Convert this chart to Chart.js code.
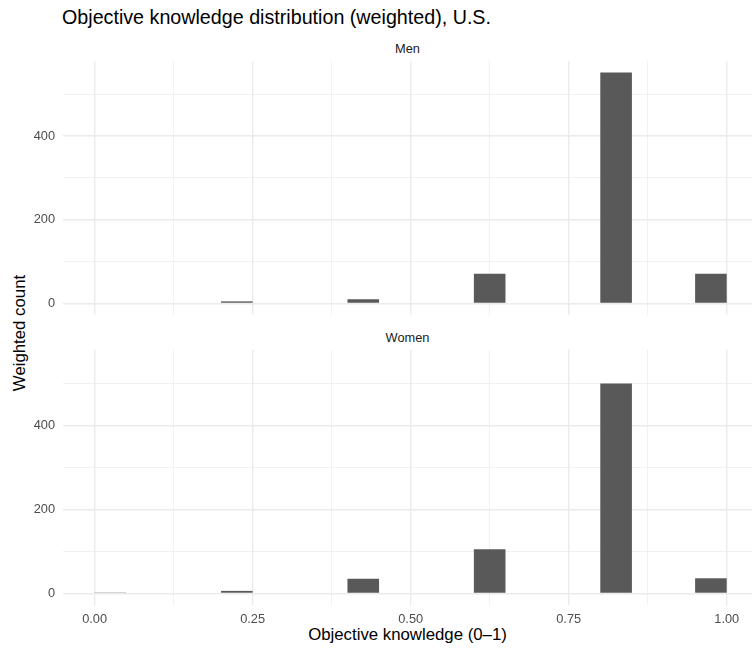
<!DOCTYPE html>
<html>
<head>
<meta charset="utf-8">
<script src="https://cdn.jsdelivr.net/npm/chart.js@4.4.1/dist/chart.umd.min.js"></script>
<style>
  body { margin: 0; background: #fff; font-family: "Liberation Sans", Arial, sans-serif; }
  #wrap { position: relative; width: 752px; height: 648px; overflow: hidden; }
  .txt { position: absolute; white-space: nowrap; }
  #title { left: 62px; top: 5.5px; font-size: 19.7px; line-height: 22px; color: #000; }
  .strip { left: 63px; width: 689px; text-align: center; font-size: 12.8px; line-height: 15px; color: #1a1a1a; }
  #xtitle { left: 63px; width: 689px; top: 625px; text-align: center; font-size: 16.8px; line-height: 20px; color: #000; }
  #ytitle { left: -130px; top: 323px; width: 300px; text-align: center; font-size: 16.8px; line-height: 20px; color: #000; transform: rotate(-90deg); }
  .box { position: absolute; left: 0; }
</style>
</head>
<body>
<div id="wrap">
  <div class="txt" id="title">Objective knowledge distribution (weighted), U.S.</div>
  <div class="txt strip" style="top:41px">Men</div>
  <div class="txt strip" style="top:330px">Women</div>
  <div class="txt" id="ytitle">Weighted count</div>
  <div class="txt" id="xtitle">Objective knowledge (0–1)</div>
  <div class="box" style="top:61px"><canvas id="menChart" width="752" height="254"></canvas></div>
  <div class="box" style="top:350px"><canvas id="womenChart" width="752" height="298"></canvas></div>
</div>
<script>
// histogram bins (width 0.05) and weighted counts
const binCenters = [0.025, 0.075, 0.125, 0.175, 0.225, 0.275, 0.325, 0.375, 0.425, 0.475,
                    0.525, 0.575, 0.625, 0.675, 0.725, 0.775, 0.825, 0.875, 0.925, 0.975];
const menCounts   = [0, 0, 0, 0, 5, 0, 0, 0, 10, 0, 0, 0, 71, 0, 0, 0, 552, 0, 0, 71];
const womenCounts = [1, 0, 0, 0, 6, 0, 0, 0, 35, 0, 0, 0, 105, 0, 0, 0, 500, 0, 0, 36];

// axis ticks
const xTicks = [0, 0.25, 0.5, 0.75, 1];
const xMinor = [0.125, 0.375, 0.625, 0.875];
const yTicks = [0, 200, 400];
const yMinor = [100, 300, 500];

const gridColor = '#ebebeb';
const tickFont = { family: '"Liberation Sans", Arial, sans-serif', size: 12.8 };

function makePanel(canvasId, counts, showX) {
  const points = binCenters.map((c, i) => ({ x: c, y: counts[i] }));
  return new Chart(document.getElementById(canvasId), {
    type: 'bar',
    data: {
      datasets: [{
        data: points,
        backgroundColor: '#595959',
        borderWidth: 0,
        inflateAmount: 0,
        barPercentage: 1,
        categoryPercentage: 1
      }]
    },
    options: {
      responsive: false,
      animation: false,
      devicePixelRatio: 1,
      layout: { padding: 0 },
      plugins: { legend: { display: false }, tooltip: { enabled: false } },
      scales: {
        x: {
          type: 'linear',
          min: -0.05,
          max: 1.04,
          offset: false,
          border: { display: false },
          grid: {
            offset: false,
            drawTicks: false,
            color: gridColor,
            lineWidth: ctx => (ctx.tick && xMinor.includes(ctx.tick.value)) ? 0.7 : 1.4
          },
          afterBuildTicks: scale => {
            scale.ticks = [...xTicks, ...xMinor].sort((a, b) => a - b).map(v => ({ value: v }));
          },
          ticks: {
            display: showX,
            autoSkip: false,
            maxRotation: 0,
            padding: 7,
            color: '#4d4d4d',
            font: tickFont,
            callback: v => xTicks.includes(v) ? v.toFixed(2) : ''
          },
          afterFit: scale => {
            scale.height = showX ? 43 : 0;
            scale.paddingLeft = 0;
            scale.paddingRight = 0;
          }
        },
        y: {
          min: -27.6,
          max: 579.6,
          border: { display: false },
          grid: {
            drawTicks: false,
            color: gridColor,
            lineWidth: ctx => (ctx.tick && yMinor.includes(ctx.tick.value)) ? 0.7 : 1.4
          },
          afterBuildTicks: scale => {
            scale.ticks = [...yTicks, ...yMinor].sort((a, b) => a - b).map(v => ({ value: v }));
          },
          ticks: {
            padding: 8,
            color: '#4d4d4d',
            font: tickFont,
            callback: v => yTicks.includes(v) ? String(v) : ''
          },
          afterFit: scale => {
            scale.width = 63;
            scale.paddingTop = 0;
            scale.paddingBottom = 0;
          }
        }
      }
    }
  });
}

const menChart = makePanel('menChart', menCounts, false);
const womenChart = makePanel('womenChart', womenCounts, true);
</script>
</body>
</html>
